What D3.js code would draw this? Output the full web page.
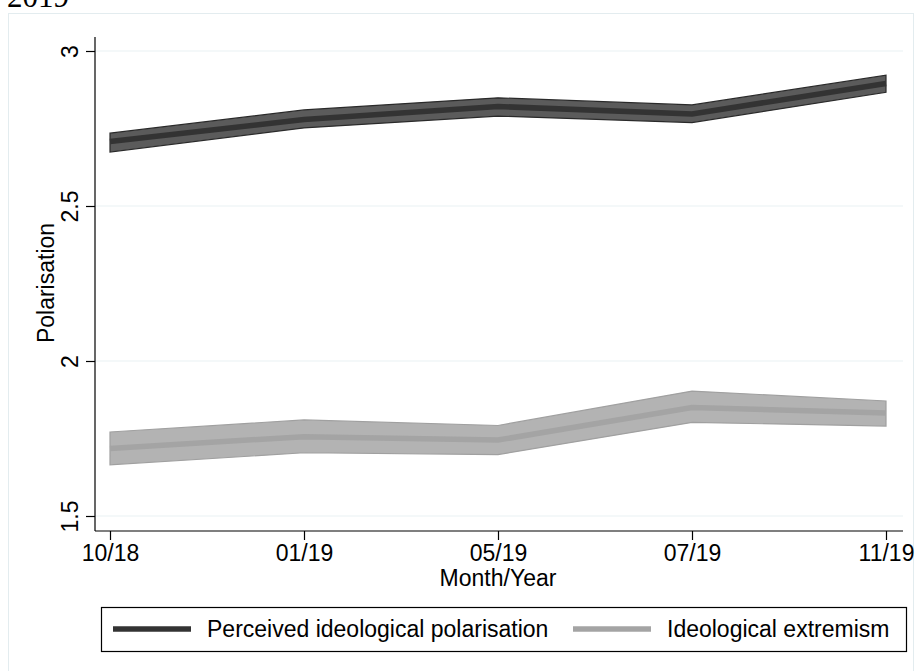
<!DOCTYPE html>
<html>
<head>
<meta charset="utf-8">
<script src="https://cdn.jsdelivr.net/npm/d3@7"></script>
<style>
  html, body { margin: 0; padding: 0; background: #fff; }
  svg { display: block; }
  text { font-family: "Liberation Sans", Arial, sans-serif; fill: #000; }
</style>
</head>
<body>
<svg id="chart" width="915" height="671"></svg>
<script>
// ---- data ----
const categories = ["10/18", "01/19", "05/19", "07/19", "11/19"];
const perceivedMean  = [2.708, 2.779, 2.821, 2.797, 2.895];
const perceivedLower = [2.674, 2.752, 2.790, 2.769, 2.867];
const perceivedUpper = [2.735, 2.810, 2.849, 2.826, 2.922];
const extremismMean  = [1.718, 1.756, 1.745, 1.850, 1.832];
const extremismLower = [1.665, 1.704, 1.698, 1.802, 1.790];
const extremismUpper = [1.771, 1.810, 1.792, 1.903, 1.871];
const yTicks = [1.5, 2, 2.5, 3];
const seriesNames = ["Perceived ideological polarisation", "Ideological extremism"];

const FS = 23;
const svg = d3.select("#chart");

// outer frame & cut-off title
svg.append("rect").attr("x", 8.5).attr("y", 13.5).attr("width", 905).attr("height", 660)
  .attr("fill", "none").attr("stroke", "#e3ecef").attr("stroke-width", 1);
svg.append("text").attr("x", 7).attr("y", 7)
  .style("font-family", "'Liberation Serif', 'Times New Roman', serif")
  .style("font-size", "31px").text("2019");

const pL = 95, pR = 903, pT = 37, pB = 531;
const x = d3.scalePoint().domain(categories).range([110, 886]);
const y = d3.scaleLinear().domain([1.5, 3]).range([516, 51]);

// grid
svg.append("g").selectAll("line").data(yTicks).join("line")
  .attr("x1", pL).attr("x2", pR)
  .attr("y1", d => y(d)).attr("y2", d => y(d))
  .attr("stroke", "#eaf1f3").attr("stroke-width", 1.2);

function drawSeries(mean, lo, hi, fill, edge, lineCol) {
  const idx = d3.range(categories.length);
  const area = d3.area().x(i => x(categories[i])).y0(i => y(lo[i])).y1(i => y(hi[i]));
  svg.append("path").datum(idx).attr("d", area)
    .attr("fill", fill).attr("stroke", edge).attr("stroke-width", 1.2);
  const line = d3.line().x(i => x(categories[i])).y(i => y(mean[i]));
  svg.append("path").datum(idx).attr("d", line)
    .attr("fill", "none").attr("stroke", lineCol).attr("stroke-width", 5.5);
}
drawSeries(perceivedMean, perceivedLower, perceivedUpper, "#5b5b5b", "#2a2a2a", "#333333");
drawSeries(extremismMean, extremismLower, extremismUpper, "#b3b3b3", "#a0a0a0", "#a4a4a4");

// axes
const yAxis = d3.axisLeft(y).tickValues(yTicks).tickSize(9).tickPadding(6)
  .tickFormat(d3.format("~g"));
const gy = svg.append("g").attr("transform", `translate(${pL},0)`).call(yAxis);
gy.select(".domain").attr("d", `M0,${pT}V${pB}`).attr("stroke", "#000").attr("stroke-width", 1.2);
gy.selectAll(".tick line").attr("stroke", "#000").attr("stroke-width", 1.2);
gy.selectAll(".tick text")
  .attr("x", null).attr("dy", null)
  .attr("text-anchor", "middle")
  .attr("transform", "translate(-17,0) rotate(-90)")
  .style("font-size", FS + "px").attr("fill", "#000");

const xAxis = d3.axisBottom(x).tickSize(9).tickPadding(5);
const gx = svg.append("g").attr("transform", `translate(0,${pB})`).call(xAxis);
gx.select(".domain").attr("d", `M${pL},0H${pR}`).attr("stroke", "#000").attr("stroke-width", 1.2);
gx.selectAll(".tick line").attr("stroke", "#000").attr("stroke-width", 1.2);
gx.selectAll(".tick text").style("font-size", FS + "px").attr("fill", "#000");

// axis titles
svg.append("text").attr("x", 498).attr("y", 586).attr("text-anchor", "middle")
  .style("font-size", FS + "px").text("Month/Year");
svg.append("text").attr("transform", "translate(54,283) rotate(-90)").attr("text-anchor", "middle")
  .style("font-size", FS + "px").text("Polarisation");

// legend
const lg = svg.append("g");
lg.append("rect").attr("x", 101.5).attr("y", 607.5).attr("width", 805).attr("height", 44)
  .attr("fill", "#fff").attr("stroke", "#000").attr("stroke-width", 1.2);
const legendItems = [
  {name: seriesNames[0], col: "#333333", x0: 113},
  {name: seriesNames[1], col: "#a4a4a4", x0: 573}
];
legendItems.forEach(it => {
  lg.append("line").attr("x1", it.x0).attr("x2", it.x0 + 78).attr("y1", 629).attr("y2", 629)
    .attr("stroke", it.col).attr("stroke-width", 5.5);
  lg.append("text").attr("x", it.x0 + 94).attr("y", 637).style("font-size", FS + "px").text(it.name);
});
</script>
</body>
</html>
